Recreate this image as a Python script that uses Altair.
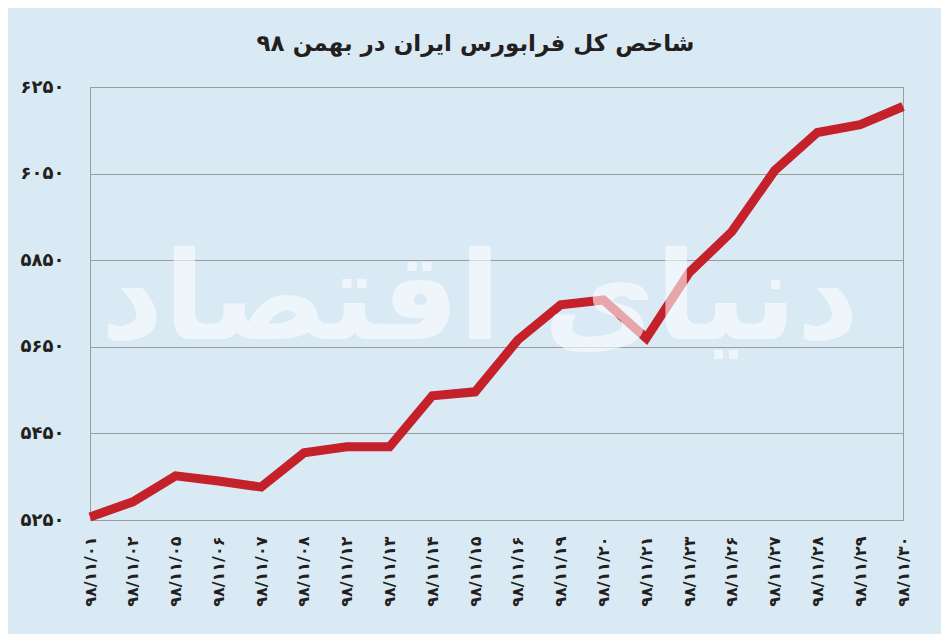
import pandas as pd
import altair as alt

FA = str.maketrans("0123456789", "۰۱۲۳۴۵۶۷۸۹")

# trading days of Bahman 1398
days = ["01", "02", "05", "06", "07", "08", "12", "13", "14", "15",
        "16", "19", "20", "21", "23", "26", "27", "28", "29", "30"]
index_values = [5257, 5292, 5352, 5340, 5326, 5405, 5419, 5419, 5537, 5546,
                5666, 5747, 5758, 5670, 5821, 5916, 6057, 6145, 6163, 6205]
y_ticks = [5250, 5450, 5650, 5850, 6050, 6250]

title_text = "شاخص کل فرابورس ایران در بهمن ۹۸"
watermark = "دنیای اقتصاد"

dates = [("98/11/" + d).translate(FA) for d in days]
data = pd.DataFrame({"date": dates, "value": index_values})

# persian digits on the y axis
y_label_expr = " : ".join(
    f"datum.value == {t} ? '{str(t).translate(FA)}'" for t in y_ticks
) + " : ''"

FONT = "DejaVu Sans"
INK = "#231f20"

line = alt.Chart(data).mark_line(color="#c4212b", strokeWidth=9, strokeJoin="miter").encode(
    x=alt.X("date:O", sort=None, title=None,
            scale=alt.Scale(type="point", padding=0),
            axis=alt.Axis(labelAngle=-90, labelAlign="right", labelBaseline="middle",
                          labelPadding=16, ticks=False, domain=False,
                          labelFont=FONT, labelFontSize=16, labelFontWeight="bold",
                          labelColor=INK)),
    y=alt.Y("value:Q", title=None,
            scale=alt.Scale(domain=[5250, 6250], nice=False, zero=False),
            axis=alt.Axis(values=y_ticks, labelExpr=y_label_expr, ticks=False,
                          domain=False, grid=True, gridColor="#9c9c9c", gridWidth=1,
                          labelPadding=26, labelFont=FONT, labelFontSize=18,
                          labelFontWeight="bold", labelColor=INK)),
)

# faint newspaper watermark over the plot
mark = alt.Chart(pd.DataFrame({"t": [watermark]})).mark_text(
    font=FONT, fontSize=122, fontWeight="bold", color="white", opacity=0.6,
    align="center", baseline="middle",
).encode(text="t:N", x=alt.value(390), y=alt.value(215))

chart = alt.layer(line, mark).properties(
    width=813,
    height=433,
    background="#d9eaf5",
    padding={"left": 82, "top": 79, "right": 38, "bottom": 114},
    autosize=alt.AutoSizeParams(type="none"),
    title=alt.TitleParams(title_text, font=FONT, fontSize=23, fontWeight="bold",
                          color=INK, anchor="middle", frame="group", dx=-21, offset=22),
).configure_view(stroke="#9c9c9c", strokeWidth=1)

chart.save("out.html", embed_options={"renderer": "svg", "actions": False})
